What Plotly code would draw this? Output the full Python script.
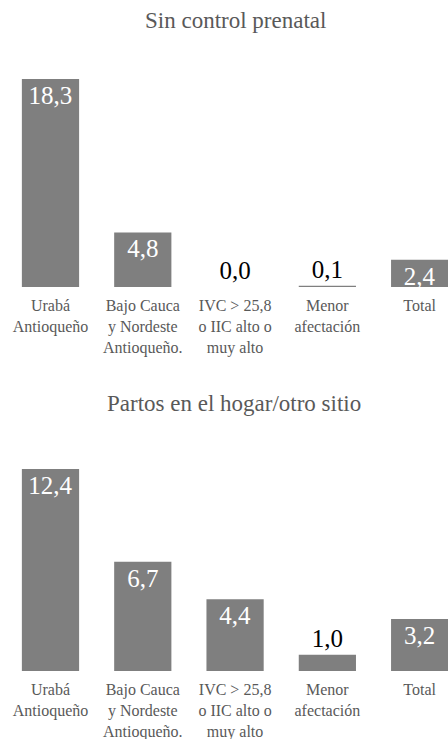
import plotly.graph_objects as go

categories = ["Urabá<br>Antioqueño", "Bajo Cauca<br>y Nordeste<br>Antioqueño.",
              "IVC > 25,8<br>o IIC alto o<br>muy alto", "Menor<br>afectación", "Total"]
titles = ["Sin control prenatal", "Partos en el hogar/otro sitio"]
sin_control = [18.3, 4.8, 0.0, 0.1, 2.4]
partos_hogar = [12.4, 6.7, 4.4, 1.0, 3.2]
series = [sin_control, partos_hogar]

BAR = "#7f7f7f"
GREY_TXT = "#595959"
FONT = "Liberation Serif, Times New Roman, serif"

W, H = 448, 739

def fmt(v):
    return f"{v:.1f}".replace(".", ",")

fig = go.Figure()
for i, vals in enumerate(series):
    pos = ["inside" if v >= 2 else "outside" for v in vals]
    fig.add_trace(go.Bar(
        x=list(range(len(categories))), y=vals,
        marker=dict(color=BAR, line=dict(width=0)),
        text=[fmt(v) for v in vals], textposition=pos,
        insidetextanchor="end", constraintext="none",
        insidetextfont=dict(color="white", size=25, family=FONT),
        outsidetextfont=dict(color="black", size=25, family=FONT),
        cliponaxis=False,
        xaxis="x" if i == 0 else "x2", yaxis="y" if i == 0 else "y2",
        showlegend=False, hoverinfo="skip",
    ))

# axis geometry (pixel positions measured from reference)
top_base, top_scale, top_max = 287, 208 / 18.3, 20
bot_base, bot_scale, bot_max = 671, 202 / 12.4, 14

def dom(base, scale, ymax):
    return [1 - base / H, 1 - (base - scale * ymax) / H]

xcommon = dict(range=[-0.547, 4.307], tickvals=list(range(5)), ticktext=categories,
               showgrid=False, zeroline=False, showline=False, ticks="",
               ticklabelstandoff=7,
               tickfont=dict(family=FONT, size=16, color=GREY_TXT), automargin=False)
ycommon = dict(visible=False, showgrid=False, zeroline=False, automargin=False)

fig.update_layout(
    width=W, height=H, margin=dict(l=0, r=0, t=0, b=0),
    paper_bgcolor="white", plot_bgcolor="white",
    bargap=0.38, uniformtext=dict(mode=False),
    xaxis=dict(**xcommon, anchor="y"),
    xaxis2=dict(**xcommon, anchor="y2"),
    yaxis=dict(**ycommon, range=[0, top_max], domain=dom(top_base, top_scale, top_max)),
    yaxis2=dict(**ycommon, range=[0, bot_max], domain=dom(bot_base, bot_scale, bot_max)),
    annotations=[
        dict(text=titles[0], x=235 / W, y=1 - 20 / H, xref="paper", yref="paper",
             xanchor="center", yanchor="middle",
             showarrow=False, font=dict(family=FONT, size=23, color=GREY_TXT)),
        dict(text=titles[1], x=234 / W, y=1 - 403 / H, xref="paper", yref="paper",
             xanchor="center", yanchor="middle",
             showarrow=False, font=dict(family=FONT, size=23, color=GREY_TXT)),
    ],
)
fig.update_layout(barmode="group")
fig.write_html("out.html", config={"displayModeBar": False},
               post_script="document.body.style.margin='0';document.body.style.overflow='hidden';")
